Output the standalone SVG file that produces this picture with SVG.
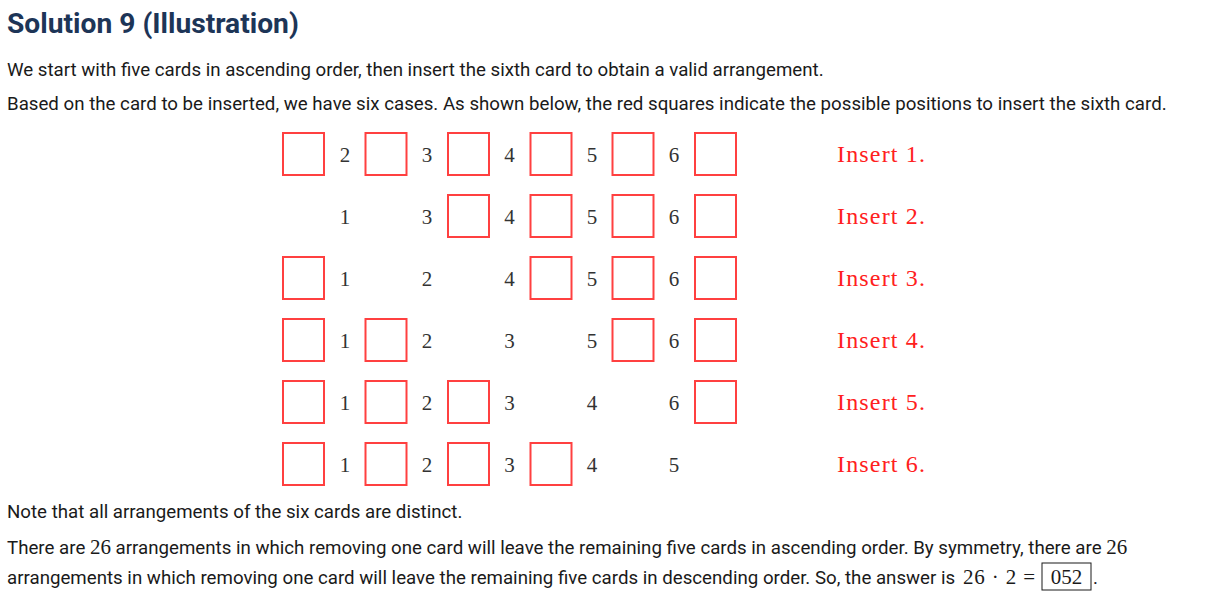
<svg xmlns="http://www.w3.org/2000/svg" width="1213" height="600" viewBox="0 0 1213 600">
<style>
.title{font-family:Roboto,"Liberation Sans",sans-serif;font-weight:bold;font-size:28.2px;fill:#1d3557}
.body{font-family:Roboto,"Liberation Sans",sans-serif;font-size:18.7px;fill:#1a1a1a}
.math{font-family:"Liberation Serif","DejaVu Serif",serif;font-size:21px}
.num{font-family:"Liberation Serif","DejaVu Serif",serif;font-size:21px;fill:#333;text-anchor:middle}
.lab{font-family:"Liberation Serif","DejaVu Serif",serif;font-size:24px;fill:#ff2020}
.box{fill:none;stroke:#ff4040;stroke-width:2}
</style>
<rect width="1213" height="600" fill="#fff"/>
<text class="title" x="7" y="33">Solution 9 (Illustration)</text>
<text class="body" x="7" y="76">We start with five cards in ascending order, then insert the sixth card to obtain a valid arrangement.</text>
<text class="body" x="7" y="110">Based on the card to be inserted, we have six cases. As shown below, the red squares indicate the possible positions to insert the sixth card.</text>

<g id="row1">
<rect class="box" x="283" y="133" width="41" height="42"/>
<rect class="box" x="365.5" y="133" width="41" height="42"/>
<rect class="box" x="448" y="133" width="41" height="42"/>
<rect class="box" x="530.5" y="133" width="41" height="42"/>
<rect class="box" x="612.5" y="133" width="41" height="42"/>
<rect class="box" x="695" y="133" width="41" height="42"/>
<text class="num" x="345" y="162">2</text><text class="num" x="427" y="162">3</text><text class="num" x="509.5" y="162">4</text><text class="num" x="592" y="162">5</text><text class="num" x="674" y="162">6</text>
<text class="lab" x="837" y="162" textLength="88" lengthAdjust="spacing">Insert 1.</text>
</g>
<g id="row2">
<rect class="box" x="448" y="195" width="41" height="42"/>
<rect class="box" x="530.5" y="195" width="41" height="42"/>
<rect class="box" x="612.5" y="195" width="41" height="42"/>
<rect class="box" x="695" y="195" width="41" height="42"/>
<text class="num" x="345" y="224">1</text><text class="num" x="427" y="224">3</text><text class="num" x="509.5" y="224">4</text><text class="num" x="592" y="224">5</text><text class="num" x="674" y="224">6</text>
<text class="lab" x="837" y="224" textLength="88" lengthAdjust="spacing">Insert 2.</text>
</g>
<g id="row3">
<rect class="box" x="283" y="257" width="41" height="42"/>
<rect class="box" x="530.5" y="257" width="41" height="42"/>
<rect class="box" x="612.5" y="257" width="41" height="42"/>
<rect class="box" x="695" y="257" width="41" height="42"/>
<text class="num" x="345" y="286">1</text><text class="num" x="427" y="286">2</text><text class="num" x="509.5" y="286">4</text><text class="num" x="592" y="286">5</text><text class="num" x="674" y="286">6</text>
<text class="lab" x="837" y="286" textLength="88" lengthAdjust="spacing">Insert 3.</text>
</g>
<g id="row4">
<rect class="box" x="283" y="319" width="41" height="42"/>
<rect class="box" x="365.5" y="319" width="41" height="42"/>
<rect class="box" x="612.5" y="319" width="41" height="42"/>
<rect class="box" x="695" y="319" width="41" height="42"/>
<text class="num" x="345" y="348">1</text><text class="num" x="427" y="348">2</text><text class="num" x="509.5" y="348">3</text><text class="num" x="592" y="348">5</text><text class="num" x="674" y="348">6</text>
<text class="lab" x="837" y="348" textLength="88" lengthAdjust="spacing">Insert 4.</text>
</g>
<g id="row5">
<rect class="box" x="283" y="381" width="41" height="42"/>
<rect class="box" x="365.5" y="381" width="41" height="42"/>
<rect class="box" x="448" y="381" width="41" height="42"/>
<rect class="box" x="695" y="381" width="41" height="42"/>
<text class="num" x="345" y="410">1</text><text class="num" x="427" y="410">2</text><text class="num" x="509.5" y="410">3</text><text class="num" x="592" y="410">4</text><text class="num" x="674" y="410">6</text>
<text class="lab" x="837" y="410" textLength="88" lengthAdjust="spacing">Insert 5.</text>
</g>
<g id="row6">
<rect class="box" x="283" y="443" width="41" height="42"/>
<rect class="box" x="365.5" y="443" width="41" height="42"/>
<rect class="box" x="448" y="443" width="41" height="42"/>
<rect class="box" x="530.5" y="443" width="41" height="42"/>
<text class="num" x="345" y="472">1</text><text class="num" x="427" y="472">2</text><text class="num" x="509.5" y="472">3</text><text class="num" x="592" y="472">4</text><text class="num" x="674" y="472">5</text>
<text class="lab" x="837" y="472" textLength="88" lengthAdjust="spacing">Insert 6.</text>
</g>

<text class="body" x="7" y="518">Note that all arrangements of the six cards are distinct.</text>
<text class="body" x="7" y="554">There are <tspan class="math">26</tspan> arrangements in which removing one card will leave the remaining five cards in ascending order. By symmetry, there are <tspan class="math">26</tspan></text>
<text class="body" x="7" y="584">arrangements in which removing one card will leave the remaining five cards in descending order. So, the answer is</text>
<text class="math" x="963" y="584" fill="#1a1a1a" textLength="72" lengthAdjust="spacing">26 · 2 =</text>
<rect x="1042" y="563" width="49" height="27" fill="none" stroke="#1a1a1a" stroke-width="1"/>
<text class="math" x="1066.5" y="584" text-anchor="middle" fill="#1a1a1a">052</text>
<text class="body" x="1093" y="584">.</text>
</svg>
